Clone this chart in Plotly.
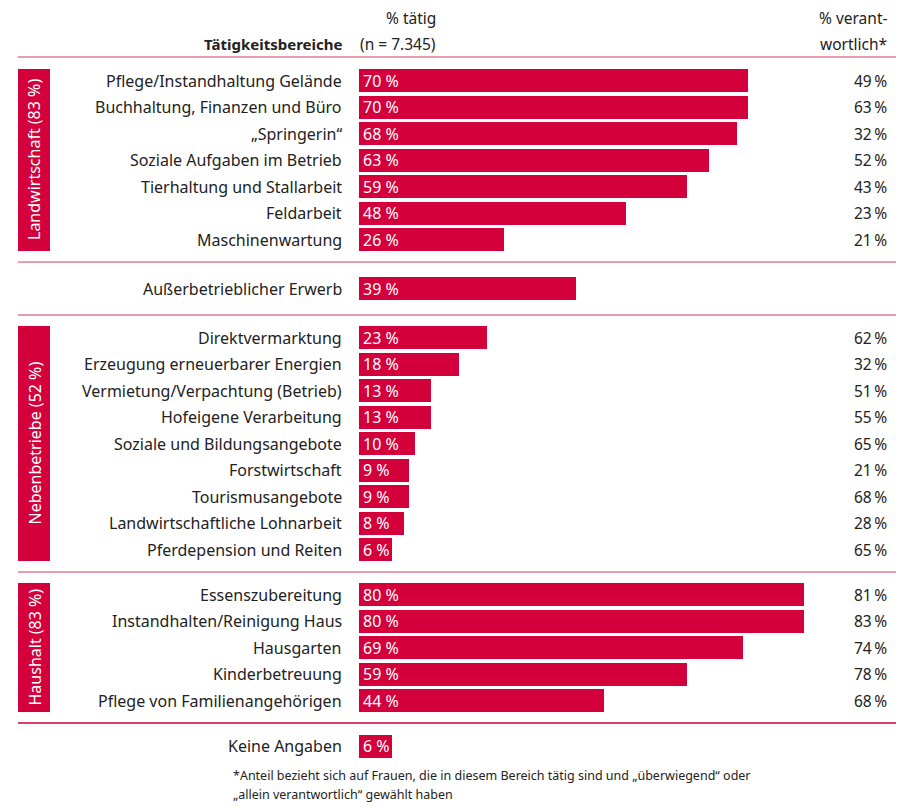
import plotly.graph_objects as go

# ---------------- data ----------------
groups = ["Landwirtschaft (83 %)", None, "Nebenbetriebe (52 %)", "Haushalt (83 %)", None]

landw_labels = ["Pflege/Instandhaltung Gelände", "Buchhaltung, Finanzen und Büro", "„Springerin“",
                "Soziale Aufgaben im Betrieb", "Tierhaltung und Stallarbeit", "Feldarbeit", "Maschinenwartung"]
landw_taetig = [70, 70, 68, 63, 59, 48, 26]
landw_verantw = [49, 63, 32, 52, 43, 23, 21]

extern_labels = ["Außerbetrieblicher Erwerb"]
extern_taetig = [39]
extern_verantw = [None]

neben_labels = ["Direktvermarktung", "Erzeugung erneuerbarer Energien", "Vermietung/Verpachtung (Betrieb)",
                "Hofeigene Verarbeitung", "Soziale und Bildungsangebote", "Forstwirtschaft",
                "Tourismusangebote", "Landwirtschaftliche Lohnarbeit", "Pferdepension und Reiten"]
neben_taetig = [23, 18, 13, 13, 10, 9, 9, 8, 6]
neben_verantw = [62, 32, 51, 55, 65, 21, 68, 28, 65]

haus_labels = ["Essenszubereitung", "Instandhalten/Reinigung Haus", "Hausgarten", "Kinderbetreuung",
               "Pflege von Familienangehörigen"]
haus_taetig = [80, 80, 69, 59, 44]
haus_verantw = [81, 83, 74, 78, 68]

keine_labels = ["Keine Angaben"]
keine_taetig = [6]
keine_verantw = [None]

header_left = "Tätigkeitsbereiche"
header_mid = ["% tätig", "(n = 7.345)"]
header_right = ["% verant-", "wortlich*"]
footnote = ["*Anteil bezieht sich auf Frauen, die in diesem Bereich tätig sind und „überwiegend“ oder",
            "„allein verantwortlich“ gewählt haben"]

# ---------------- layout constants (page pixels) ----------------
RED = "#D3003B"
PINK = "#E57A93"
FONT = "Noto Sans"
TXT = "#222222"
FS = 16
OFF = 8               # default body margin
W, H = 906 - 2 * OFF, 810 - 2 * OFF
X0 = 359              # page x of 0 %
PPU = 5.5625          # pixels per percent
STEP = 26.5
BAR_H = 23

def xd(px):
    return (px - X0) / PPU

group_data = [
    (landw_labels, landw_taetig, landw_verantw),
    (extern_labels, extern_taetig, extern_verantw),
    (neben_labels, neben_taetig, neben_verantw),
    (haus_labels, haus_taetig, haus_verantw),
    (keine_labels, keine_taetig, keine_verantw),
]
group_starts = [80.5, 288.5, 337.5, 594.5, 746]
separators = [262, 315, 572, 723]

labels, taetig, verantw, ys = [], [], [], []
boxes = []
for (lab, t, v), y0, g in zip(group_data, group_starts, groups):
    pos = [y0 + STEP * i for i in range(len(lab))]
    labels += lab
    taetig += t
    verantw += v
    ys += pos
    if g:
        boxes.append((g, pos[0] - BAR_H / 2, pos[-1] + BAR_H / 2))

fig = go.Figure()
fig.add_trace(go.Bar(
    x=taetig, y=ys, orientation="h", width=BAR_H,
    marker=dict(color=RED, line=dict(width=0)), hoverinfo="skip",
))

ann = []
for lab, t, v, y in zip(labels, taetig, verantw, ys):
    ann.append(dict(x=xd(344), y=y, text=lab, xanchor="right", yanchor="middle", showarrow=False,
                    font=dict(size=FS, color=TXT)))
    ann.append(dict(x=0, y=y, text=f"{t} %", xanchor="left", yanchor="middle", showarrow=False, xshift=2,
                    font=dict(size=FS, color="white")))
    if v is not None:
        ann.append(dict(x=xd(889), y=y, text=f"{v}\u2009%", xanchor="right", yanchor="middle", showarrow=False,
                        font=dict(size=FS - 0.5, color=TXT)))

ann.append(dict(x=xd(344), y=44, text=f"<b>{header_left}</b>", xanchor="right", yanchor="middle",
                showarrow=False, font=dict(size=15, color=TXT)))
for txt, y in zip(header_mid, [18, 44]):
    ann.append(dict(x=xd(438), y=y, text=txt, xanchor="right", yanchor="middle", showarrow=False,
                    font=dict(size=15.5, color=TXT)))
for txt, y in zip(header_right, [18, 44]):
    ann.append(dict(x=xd(889), y=y, text=txt, xanchor="right", yanchor="middle", showarrow=False,
                    font=dict(size=15.5, color=TXT)))
for txt, y in zip(footnote, [775, 794]):
    ann.append(dict(x=xd(231), y=y, text=txt, xanchor="left", yanchor="middle", showarrow=False,
                    font=dict(size=12.5, color=TXT)))

shapes = []
shapes.append(dict(type="line", x0=xd(18), x1=xd(896), y0=57, y1=57, line=dict(color=PINK, width=1.5)))
for i, s in enumerate(separators):
    col = RED if i == len(separators) - 1 else PINK
    shapes.append(dict(type="line", x0=xd(18), x1=xd(896), y0=s, y1=s, line=dict(color=col, width=1.5)))
for g, top, bot in boxes:
    shapes.append(dict(type="rect", x0=xd(18), x1=xd(50), y0=top, y1=bot, fillcolor=RED,
                       line=dict(width=0), layer="below"))
    ann.append(dict(x=xd(34), y=(top + bot) / 2, text=g, textangle=-90, xanchor="center", yanchor="middle",
                    showarrow=False, font=dict(size=FS, color="white")))

fig.update_layout(
    width=W, height=H, margin=dict(l=0, r=0, t=0, b=0),
    paper_bgcolor="white", plot_bgcolor="white",
    font=dict(family=FONT, color=TXT),
    showlegend=False, bargap=0,
    xaxis=dict(range=[xd(OFF), xd(OFF + W)], visible=False, fixedrange=True),
    yaxis=dict(range=[OFF + H, OFF], visible=False, fixedrange=True),
    annotations=ann, shapes=shapes,
)
fig.write_html("out.html")
